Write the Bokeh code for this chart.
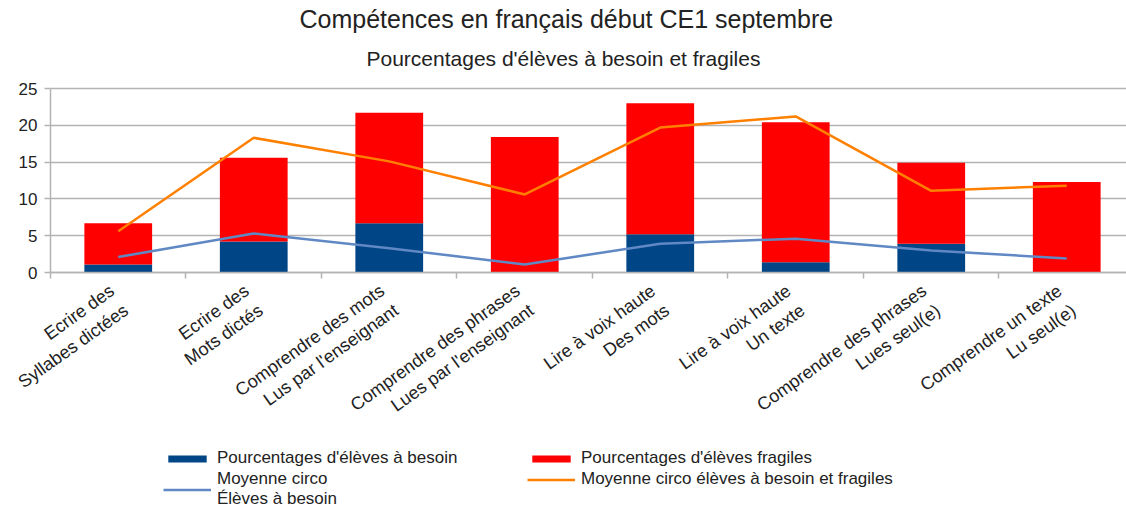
from bokeh.plotting import figure
from bokeh.models import (ColumnDataSource, Range1d, FixedTicker,
                          Legend, LegendItem, Title)
from bokeh.embed import file_html
from bokeh.resources import INLINE

categories = ["Ecrire des\nSyllabes dictées",
              "Ecrire des\nMots dictés",
              "Comprendre des mots\nLus par l'enseignant",
              "Comprendre des phrases\nLues par l'enseignant",
              "Lire à voix haute\nDes mots",
              "Lire à voix haute\nUn texte",
              "Comprendre des phrases\nLues seul(e)",
              "Comprendre un texte\nLu seul(e)"]
besoin = [1.1, 4.2, 6.7, 0.0, 5.2, 1.4, 3.9, 0.0]
fragiles = [5.6, 11.4, 15.0, 18.4, 17.8, 19.0, 11.0, 12.3]
moyenne_besoin = [2.1, 5.3, 3.3, 1.1, 3.9, 4.6, 3.0, 1.9]
moyenne_total = [5.6, 18.3, 15.1, 10.6, 19.7, 21.2, 11.1, 11.8]
y_ticks = [0, 5, 10, 15, 20, 25]

FONT = "Liberation Sans"
TXT = "#222222"
GRID = "#b3b3b3"
BLUE = "#004586"
RED = "#ff0000"
LBLUE = "#5f88c4"
ORANGE = "#ff8000"

xs = list(range(len(categories)))
src = ColumnDataSource(dict(x=xs, besoin=besoin, fragiles=fragiles,
                            mb=moyenne_besoin, mt=moyenne_total))

X0, X1 = -0.869, 7.441   # visible x extent (category units), axis sits at -0.5
# frame covers the whole canvas below the titles: plot area + labels + legend
p = figure(frame_width=1126, frame_height=432,
           x_range=Range1d(X0, X1), y_range=Range1d(-32.337, 26.359),
           output_backend="svg", toolbar_location=None,
           min_border_left=0, min_border_right=0, min_border_top=0, min_border_bottom=0,
           background_fill_color="white", border_fill_color="white")
p.outline_line_color = None

bars = p.vbar_stack(["besoin", "fragiles"], x="x", width=0.5, color=[BLUE, RED],
                    line_color=None, source=src)
lb = p.line("x", "mb", source=src, line_color=LBLUE, line_width=2.5)
lt = p.line("x", "mt", source=src, line_color=ORANGE, line_width=2.5)

# grid
p.xgrid.grid_line_color = None
p.ygrid.grid_line_color = GRID
p.ygrid.grid_line_width = 1.5
p.ygrid.ticker = FixedTicker(ticks=y_ticks)
p.ygrid.cross_bounds = (-0.5, X1)

# y axis
p.yaxis.fixed_location = -0.5
p.yaxis.ticker = FixedTicker(ticks=y_ticks)
p.yaxis.bounds = (0, 25)
p.yaxis.axis_line_color = GRID
p.yaxis.axis_line_width = 1.5
p.yaxis.major_tick_line_color = GRID
p.yaxis.major_tick_line_width = 1.5
p.yaxis.major_tick_in = 0
p.yaxis.major_tick_out = 6
p.yaxis.minor_tick_line_color = None
p.yaxis.major_label_text_font = FONT
p.yaxis.major_label_text_font_size = "17px"
p.yaxis.major_label_text_color = TXT
p.yaxis.major_label_standoff = 7

# x axis
p.xaxis.fixed_location = 0
p.xaxis.bounds = (-0.5, X1)
p.xaxis.ticker = FixedTicker(ticks=xs, minor_ticks=[i - 0.5 for i in range(len(categories) + 1)])
p.xaxis.major_label_overrides = {i: c for i, c in enumerate(categories)}
p.xaxis.major_label_orientation = 0.62
p.xaxis.major_tick_line_color = None
p.xaxis.minor_tick_line_color = GRID
p.xaxis.minor_tick_line_width = 1.5
p.xaxis.minor_tick_in = 0
p.xaxis.minor_tick_out = 6
p.xaxis.axis_line_color = GRID
p.xaxis.axis_line_width = 1.5
p.xaxis.major_label_text_font = FONT
p.xaxis.major_label_text_font_size = "18px"
p.xaxis.major_label_text_color = TXT
p.xaxis.major_label_standoff = 20

# titles
p.title.text = "Compétences en français début CE1 septembre"
p.title.align = "left"
p.title.text_font = FONT
p.title.text_font_size = "25px"
p.title.text_font_style = "normal"
p.title.text_color = TXT
p.title.offset = 299
p.title.standoff = 5
p.add_layout(Title(text="Pourcentages d'élèves à besoin et fragiles", align="left",
                   text_font=FONT, text_font_size="21px", text_font_style="normal",
                   text_color=TXT, offset=366, standoff=18), "above")

common = dict(label_text_font=FONT, label_text_font_size="17px", label_text_color=TXT,
              glyph_width=48, glyph_height=9, label_standoff=6, spacing=1, padding=0,
              margin=0, border_line_color=None, background_fill_alpha=0,
              label_height=18)

legend_a = Legend(items=[
    LegendItem(label="Pourcentages d'élèves à besoin", renderers=[bars[0]]),
    LegendItem(label="Moyenne circo\nÉlèves à besoin", renderers=[lb]),
], orientation="vertical", location=(163, 1), **common)
legend_b = Legend(items=[
    LegendItem(label="Pourcentages d'élèves fragiles", renderers=[bars[1]]),
    LegendItem(label="Moyenne circo élèves à besoin et fragiles", renderers=[lt]),
], orientation="vertical", location=(527, 21), **common)
p.add_layout(legend_a, "center")
p.add_layout(legend_b, "center")

open("out.html", "w").write(file_html(p, INLINE))
